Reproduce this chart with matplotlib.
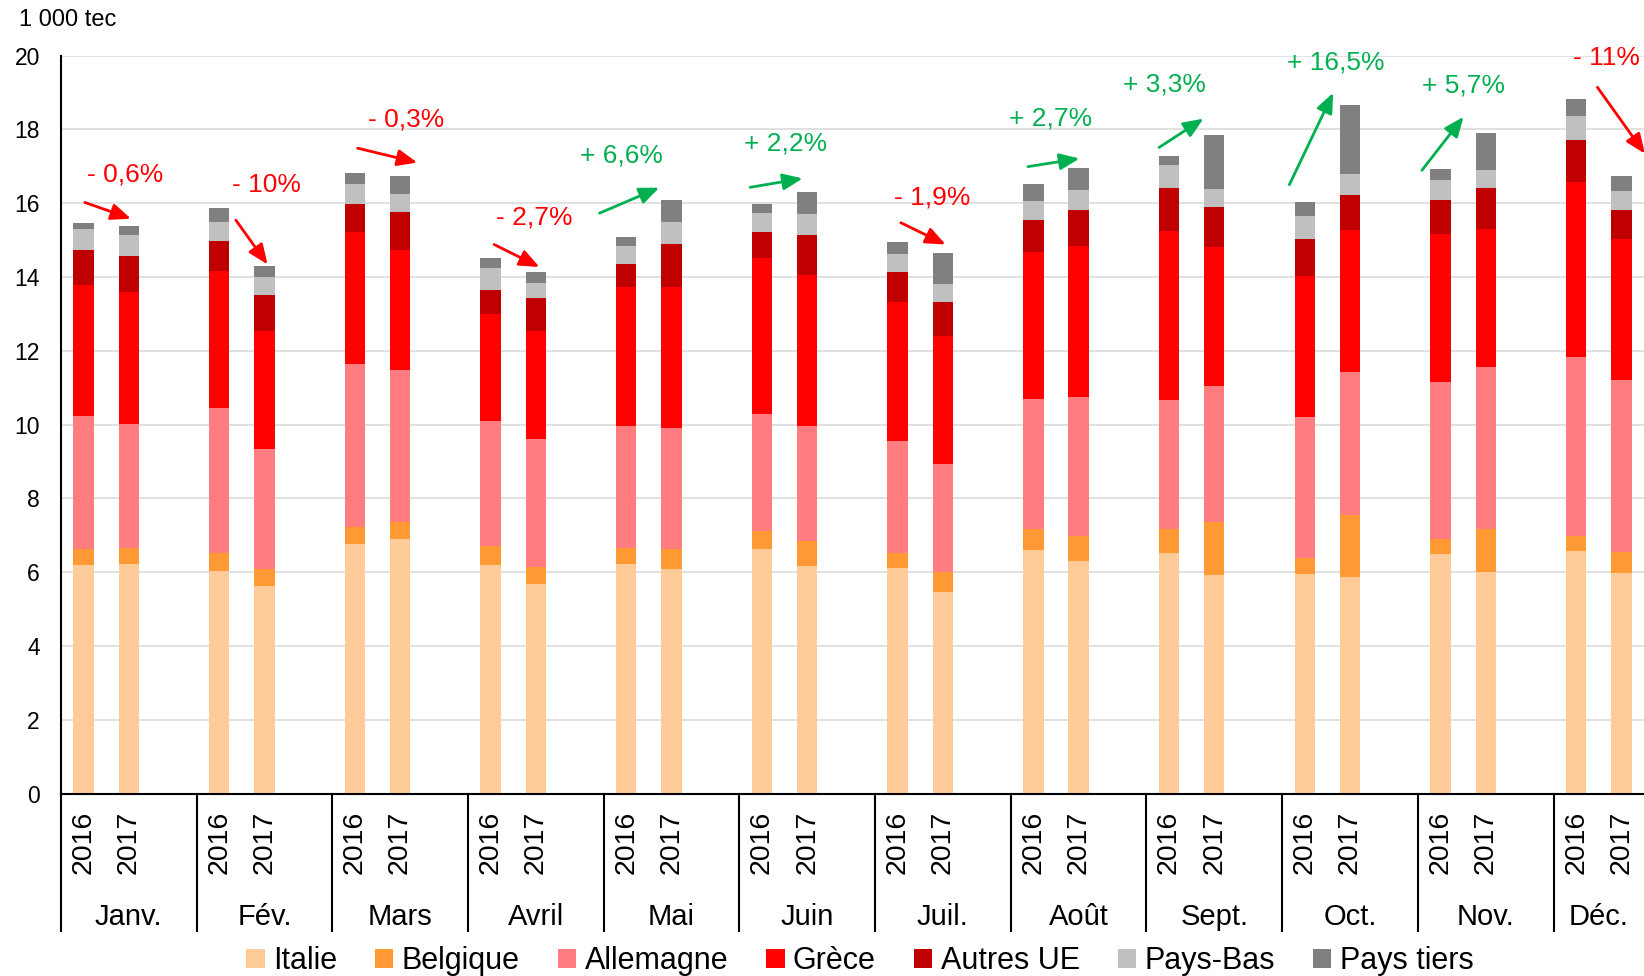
import matplotlib
matplotlib.use("Agg")
import numpy as np
from matplotlib import pyplot as plt
from matplotlib.patches import Patch

plt.rcParams['font.family'] = ['Liberation Sans', 'DejaVu Sans']

months = ["Janv.", "Fév.", "Mars", "Avril", "Mai", "Juin",
          "Juil.", "Août", "Sept.", "Oct.", "Nov.", "Déc."]
years = ["2016", "2017"]

# 1 000 tec, order: Janv 2016, Janv 2017, Fév 2016, ...
italie = [6.20, 6.23, 6.03, 5.63, 6.77, 6.89, 6.20, 5.68, 6.23, 6.09, 6.62, 6.17,
          6.11, 5.46, 6.60, 6.30, 6.51, 5.92, 5.96, 5.86, 6.50, 6.00, 6.57, 5.99]
belgique = [0.42, 0.42, 0.48, 0.46, 0.46, 0.48, 0.52, 0.45, 0.44, 0.53, 0.50, 0.67,
            0.42, 0.54, 0.58, 0.68, 0.67, 1.43, 0.42, 1.70, 0.41, 1.16, 0.42, 0.55]
allemagne = [3.61, 3.37, 3.94, 3.25, 4.40, 4.12, 3.37, 3.49, 3.28, 3.29, 3.16, 3.12,
             3.02, 2.92, 3.52, 3.78, 3.48, 3.70, 3.83, 3.86, 4.24, 4.39, 4.83, 4.66]
grece = [3.54, 3.58, 3.70, 3.20, 3.59, 3.23, 2.90, 2.92, 3.78, 3.82, 4.23, 4.10,
         3.78, 3.47, 3.99, 4.09, 4.58, 3.76, 3.83, 3.84, 4.02, 3.75, 4.75, 3.82]
autres_ue = [0.95, 0.98, 0.83, 0.98, 0.75, 1.05, 0.67, 0.89, 0.61, 1.16, 0.72, 1.07,
             0.80, 0.94, 0.85, 0.96, 1.16, 1.09, 0.99, 0.95, 0.92, 1.10, 1.14, 0.80]
pays_bas = [0.57, 0.57, 0.50, 0.49, 0.56, 0.48, 0.58, 0.41, 0.51, 0.59, 0.51, 0.57,
            0.49, 0.48, 0.51, 0.54, 0.63, 0.48, 0.62, 0.58, 0.53, 0.50, 0.65, 0.50]
pays_tiers = [0.18, 0.22, 0.40, 0.29, 0.29, 0.49, 0.28, 0.29, 0.22, 0.60, 0.23, 0.59,
              0.33, 0.85, 0.47, 0.61, 0.25, 1.47, 0.37, 1.87, 0.31, 1.01, 0.47, 0.42]

series_names = ["Italie", "Belgique", "Allemagne", "Grèce", "Autres UE", "Pays-Bas", "Pays tiers"]
series_values = [italie, belgique, allemagne, grece, autres_ue, pays_bas, pays_tiers]
series_colors = ["#FFCC99", "#FF9933", "#FF7C80", "#FF0000", "#C00000", "#C0C0C0", "#808080"]

# evolution 2017 / 2016 per month
changes = ["- 0,6%", "- 10%", "- 0,3%", "- 2,7%", "+ 6,6%", "+ 2,2%",
           "- 1,9%", "+ 2,7%", "+ 3,3%", "+ 16,5%", "+ 5,7%", "- 11%"]

# hand placed annotation layout: text (x, y), arrow start, arrow end
note_text_pos = [(1.43, 16.77), (4.55, 16.50), (7.63, 18.26), (10.47, 15.61),
                 (12.39, 17.30), (16.03, 17.62), (19.26, 16.14), (21.89, 18.30),
                 (24.39, 19.22), (28.18, 19.82), (31.02, 19.19), (34.16, 19.93)]
arrow_start = [(0.53, 16.02), (3.87, 15.54), (6.56, 17.49), (9.58, 14.88),
               (11.91, 15.73), (15.24, 16.43), (18.57, 15.47), (21.38, 16.99),
               (24.28, 17.51), (27.16, 16.50), (30.09, 16.89), (33.97, 19.14)]
arrow_end = [(1.55, 15.58), (4.57, 14.34), (7.88, 17.10), (10.58, 14.27),
             (13.23, 16.42), (16.40, 16.67), (19.56, 14.88), (22.52, 17.21),
             (25.26, 18.29), (28.13, 18.99), (31.01, 18.34), (35.02, 17.34)]

# each month takes 3 slots: 2016, 2017, empty
x = np.array([3 * m + y + 0.5 for m in range(len(months)) for y in range(len(years))])

fig = plt.figure(figsize=(16.44, 9.76), dpi=100)
ax = fig.add_axes([0.037, 0.1868, 0.963, 0.7563])

bottom = np.zeros(len(x))
for name, values, color in zip(series_names, series_values, series_colors):
    ax.bar(x, values, width=0.45, bottom=bottom, color=color, zorder=3)
    bottom += np.array(values)

ax.set_xlim(0, 35)
ax.set_ylim(0, 20)
ax.set_yticks(range(0, 21, 2))
ax.yaxis.grid(True, color="#D9D9D9", linewidth=1.1, zorder=0)
ax.tick_params(axis="y", length=0, pad=15, labelsize=16.5)
ax.tick_params(axis="x", length=0, pad=12, labelsize=20.5)
ax.set_xticks(x)
ax.set_xticklabels(years * len(months), rotation=90, va="top")

for side in ["top", "right"]:
    ax.spines[side].set_visible(False)
for side in ["left", "bottom"]:
    ax.spines[side].set_linewidth(1.5)
    ax.spines[side].set_zorder(4)

trans = ax.get_xaxis_transform()
for m, month in enumerate(months):
    left = 3 * m
    right = min(3 * m + 3, 35)
    ax.text((left + right) / 2, -0.1676, month, transform=trans,
            ha="center", va="center", fontsize=21)
    ax.plot([left, left], [0, -0.186], transform=trans, color="black",
            linewidth=1.5, clip_on=False)

for label, tpos, start, end in zip(changes, note_text_pos, arrow_start, arrow_end):
    color = "#00B050" if label.startswith("+") else "#FF0000"
    ax.text(tpos[0], tpos[1], label, color=color, fontsize=19,
            ha="center", va="center", clip_on=False)
    ax.annotate("", xy=end, xytext=start, annotation_clip=False,
                arrowprops=dict(arrowstyle="-|>,head_length=0.6,head_width=0.25",
                                color=color, lw=2, mutation_scale=20,
                                shrinkA=0, shrinkB=0))

fig.text(0.0117, 0.980, "1 000 tec", ha="left", va="center", fontsize=17)

handles = [Patch(facecolor=c, label=n) for n, c in zip(series_names, series_colors)]
fig.legend(handles=handles, loc="center", bbox_to_anchor=(0.523, 0.0152), ncol=7,
           frameon=False, fontsize=22, handlelength=0.6, handleheight=0.6,
           handletextpad=0.27, columnspacing=1.25, borderaxespad=0, borderpad=0)

fig.savefig("out.png", dpi=100)
